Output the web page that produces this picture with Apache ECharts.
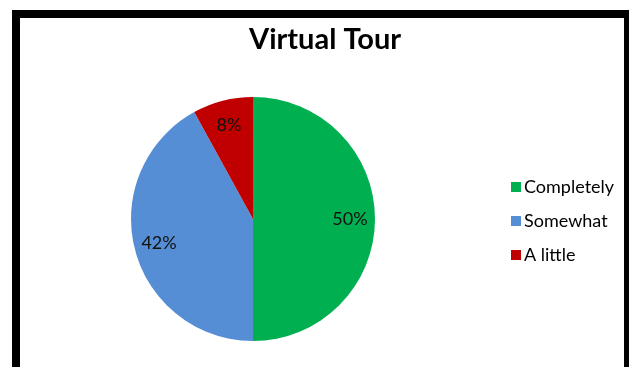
<!DOCTYPE html>
<html>
<head>
<meta charset="utf-8">
<script src="https://cdn.jsdelivr.net/npm/echarts@6/dist/echarts.min.js"></script>
<style>
  html, body { margin: 0; padding: 0; background: #fff; }
  #chart { width: 629px; height: 367px; }
</style>
</head>
<body>
<div id="chart"></div>
<script>
// Survey answers for the virtual tour question
const categories = ['Completely', 'Somewhat', 'A little'];
const shares = [50, 42, 8];
const sliceColors = ['#00B050', '#558ED5', '#C00000'];

const FONT = 'Lato, "Open Sans", sans-serif';
const CENTER = [253, 219];

const data = categories.map((name, i) => ({
  name: name,
  value: shares[i],
  itemStyle: { color: sliceColors[i] }
}));

const chart = echarts.init(document.getElementById('chart'), null, { renderer: 'canvas' });

chart.setOption({
  backgroundColor: '#ffffff',
  animation: false,
  title: {
    text: 'Virtual Tour',
    left: 244,
    top: 20,
    textStyle: { fontFamily: FONT, fontWeight: 'bold', fontSize: 29, color: '#000' }
  },
  legend: {
    orient: 'vertical',
    left: 506,
    top: 173,
    itemWidth: 10,
    itemHeight: 10,
    itemGap: 16,
    icon: 'rect',
    data: categories,
    textStyle: { fontFamily: FONT, fontSize: 18, color: '#000', padding: [0, 0, 0, -2] }
  },
  graphic: [{
    type: 'rect',
    shape: { x: 16, y: 14, width: 612, height: 400 },
    style: { fill: 'none', stroke: '#000', lineWidth: 8 },
    silent: true,
    z: 100
  }],
  series: [
    {
      type: 'pie',
      center: CENTER,
      radius: [0, 122],
      startAngle: 90,
      clockwise: true,
      label: { show: false },
      labelLine: { show: false },
      emphasis: { disabled: true },
      data: data
    },
    {
      // transparent ring carrying the percentage labels further out than the default
      type: 'pie',
      center: CENTER,
      radius: [66, 122],
      startAngle: 90,
      clockwise: true,
      silent: true,
      legendHoverLink: false,
      itemStyle: { color: 'rgba(0,0,0,0)', borderWidth: 0 },
      label: {
        show: true,
        position: 'inside',
        formatter: p => p.value + '%',
        fontFamily: FONT,
        fontSize: 18,
        color: '#111'
      },
      labelLine: { show: false },
      emphasis: { disabled: true },
      data: categories.map((name, i) => ({ name: name, value: shares[i] }))
    }
  ]
});
</script>
</body>
</html>
